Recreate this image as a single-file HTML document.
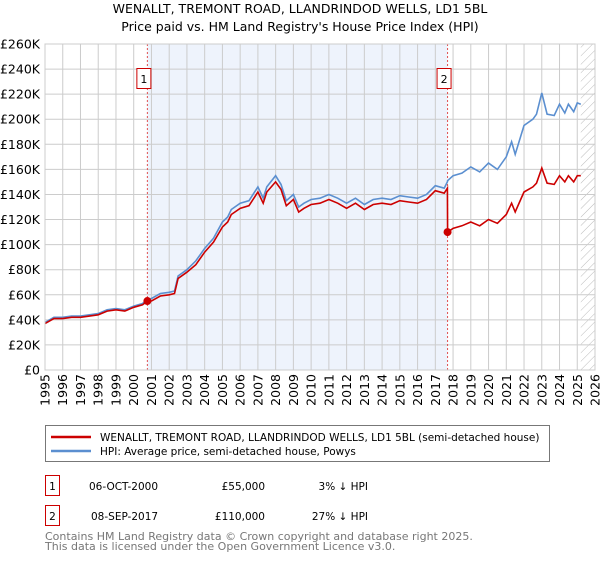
<!DOCTYPE html>
<html><head><meta charset="utf-8"><style>
body{margin:0;background:#fff;font-family:"Liberation Sans","DejaVu Sans",sans-serif;}
svg text{font-family:"DejaVu Sans","Liberation Sans",sans-serif;}
</style></head><body>
<svg id="c" width="600" height="560" xmlns="http://www.w3.org/2000/svg">
<defs><pattern id="hatch" width="6" height="6" patternUnits="userSpaceOnUse" patternTransform="rotate(45)"><line x1="0" y1="0" x2="0" y2="6" stroke="#bbb" stroke-width="1"/></pattern></defs>
<text x="300" y="13" text-anchor="middle" font-size="12.5">WENALLT, TREMONT ROAD, LLANDRINDOD WELLS, LD1 5BL</text>
<text x="300" y="31" text-anchor="middle" font-size="12.5">Price paid vs. HM Land Registry's House Price Index (HPI)</text>
<g id="plot"></g>
<rect x="45.5" y="425.5" width="504" height="36" fill="#fff" stroke="#777"/>
<line x1="51" y1="437" x2="91" y2="437" stroke="#cc0000" stroke-width="2.5"/>
<text x="100" y="441" font-size="10.5">WENALLT, TREMONT ROAD, LLANDRINDOD WELLS, LD1 5BL (semi-detached house)</text>
<line x1="51" y1="451" x2="91" y2="451" stroke="#5b8fd0" stroke-width="2.5"/>
<text x="100" y="455" font-size="10.5">HPI: Average price, semi-detached house, Powys</text>
<g>
<rect x="45.5" y="475.5" width="14" height="20" fill="none" stroke="#cc0000"/>
<text x="52.5" y="490" text-anchor="middle" font-size="10.5">1</text>
<text x="89" y="490" font-size="10.5">06-OCT-2000</text>
<text x="265" y="490" text-anchor="end" font-size="10.5">£55,000</text>
<text x="368" y="490" text-anchor="end" font-size="10.5">3% ↓ HPI</text></g>
<g>
<rect x="45.5" y="505.5" width="14" height="20" fill="none" stroke="#cc0000"/>
<text x="52.5" y="520" text-anchor="middle" font-size="10.5">2</text>
<text x="91" y="520" font-size="10.5">08-SEP-2017</text>
<text x="265" y="520" text-anchor="end" font-size="10.5">£110,000</text>
<text x="368" y="520" text-anchor="end" font-size="10.5">27% ↓ HPI</text></g>
<text x="45" y="540" font-size="11" fill="#777">Contains HM Land Registry data © Crown copyright and database right 2025.</text>
<text x="45" y="550" font-size="11" fill="#777">This data is licensed under the Open Government Licence v3.0.</text>
</svg>
<script>
const dates=[1995.0,1995.5,1996,1996.5,1997,1997.5,1998,1998.5,1999,1999.5,2000,2000.5,2000.77,2001,2001.5,2002,2002.3,2002.5,2003,2003.5,2004,2004.5,2005,2005.3,2005.5,2006,2006.5,2007,2007.3,2007.5,2008,2008.3,2008.6,2009,2009.3,2009.6,2010,2010.5,2011,2011.5,2012,2012.5,2013,2013.5,2014,2014.5,2015,2015.5,2016,2016.5,2017,2017.5,2017.68,2017.69,2018,2018.5,2019,2019.5,2020,2020.5,2021,2021.3,2021.5,2022,2022.5,2022.7,2023,2023.3,2023.7,2024,2024.3,2024.5,2024.8,2025,2025.2];
const hpi=[38,42,42,43,43,44,45,48,49,48,51,53,56.5,57,61,62,63,75,80,87,97,105,118,122,128,133,135,146,137,146,155,148,135,140,130,133,136,137,140,137,133,137,132,136,137,136,139,138,137,140,147,145,150,151,155,157,162,158,165,160,170,182,172,195,200,204,221,204,203,212,205,212,206,213,212];
const price=[37,41,41,42,42,43,44,47,48,47,50,52,55,55,59,60,61,73,78,84,94,102,114,118,124,129,131,142,133,142,150,144,131,136,126,129,132,133,136,133,129,133,128,132,133,132,135,134,133,136,143,141,145,110,113,115,118,115,120,117,124,133,126,142,146,149,161,149,148,155,150,155,150,155,155];
const saleDates=[2000.77,2017.69];
const saleValues=[55,110];
const saleLabels=["1","2"];
const yTicks=[0,20,40,60,80,100,120,140,160,180,200,220,240,260];
const xYears=[1995,1996,1997,1998,1999,2000,2001,2002,2003,2004,2005,2006,2007,2008,2009,2010,2011,2012,2013,2014,2015,2016,2017,2018,2019,2020,2021,2022,2023,2024,2025,2026];
const dataEnd=2025.2;
const L=45,R=595,T=44,B=370;
const x=v=>L+(v-1995)/31*(R-L);
const y=v=>B-v/260*(B-T);
const NS="http://www.w3.org/2000/svg";
const g=document.getElementById('plot');
function mk(t,a){const e=document.createElementNS(NS,t);for(const k in a)e.setAttribute(k,a[k]);g.appendChild(e);return e;}
let e=mk('rect',{x:L,y:T,width:R-L,height:B-T,fill:'#fff'});


e=mk('rect',{x:x(saleDates[0]),y:T,width:x(saleDates[1])-x(saleDates[0]),height:B-T,fill:'#eef3fc'});


e=mk('rect',{x:x(dataEnd),y:T,width:R-x(dataEnd),height:B-T,fill:'url(#hatch)'});


yTicks.forEach(v=>{
 e=mk('line',{x1:L,x2:R,y1:y(v),y2:y(v),stroke:'#ccc'});
 
 
 e=mk('text',{x:L-5,y:y(v)+4.5,'text-anchor':'end','font-size':'12.5'});
 e.textContent=v===0?'£0':'£'+v+'K';
 
 
});
xYears.forEach(v=>{
 e=mk('line',{x1:x(v),x2:x(v),y1:T,y2:B,stroke:'#ccc'});
 
 
 e=mk('text',{x:0,y:0,'font-size':'12.5','text-anchor':'end',transform:`translate(${x(v)+4.5},${B+4}) rotate(-90)`});
 e.textContent=v;
 
 
});
saleDates.forEach((d,i)=>{
 e=mk('line',{x1:x(d),x2:x(d),y1:T,y2:B,stroke:'#e05050','stroke-dasharray':'2,2'});
 
 
});
const pts=a=>a.map((v,i)=>x(dates[i]).toFixed(1)+','+y(v).toFixed(1)).join(' ');
e=mk('polyline',{points:pts(hpi),fill:'none',stroke:'#5b8fd0','stroke-width':1.6});


e=mk('polyline',{points:pts(price),fill:'none',stroke:'#cc0000','stroke-width':1.6});


saleDates.forEach((d,i)=>{
 e=mk('circle',{cx:x(d),cy:y(saleValues[i]),r:4,fill:'#cc0000'});
 
 
 e=mk('rect',{x:x(d)-10.5,y:68.5,width:14,height:20,fill:'#fff',stroke:'#cc0000'});
 
 
 e=mk('text',{x:x(d)-3.5,y:83,'text-anchor':'middle','font-size':'11'});
 e.textContent=saleLabels[i];
 
 
});
e=mk('rect',{x:L,y:T,width:R-L,height:B-T,fill:'none',stroke:'#ccc'});


</script>
</body></html>
